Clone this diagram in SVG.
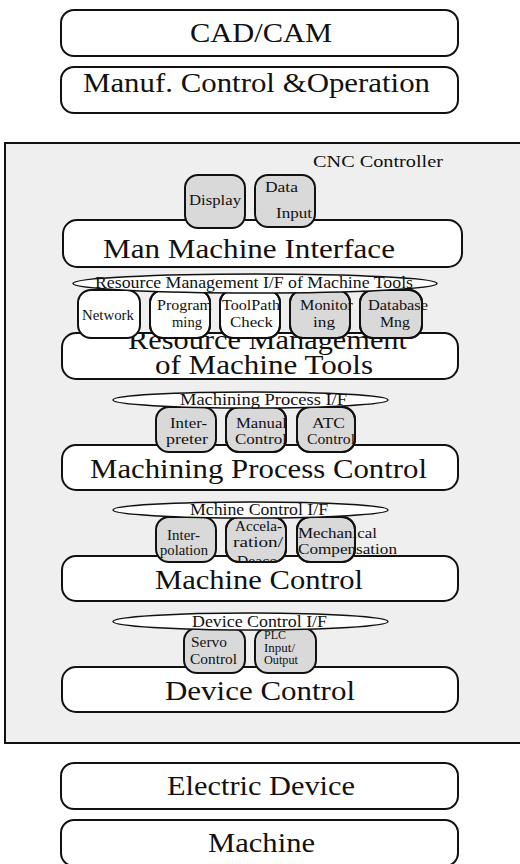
<svg xmlns="http://www.w3.org/2000/svg" width="520" height="864" viewBox="0 0 520 864">
  <style>
    text { font-family: "Liberation Serif", "Times New Roman", serif; fill: #111; }
    .big { font-size: 28px; }
    .sm { font-size: 15px; }
    .if { font-size: 16px; }
    .tiny { font-size: 11.5px; }
    .layer { fill: #fff; stroke: #111; stroke-width: 2; }
    .mod { stroke: #111; stroke-width: 2; }
    .white { fill: #fff; }
    .gray { fill: #d9d9d9; }
    .line { fill: none; stroke: #111; stroke-width: 2; }
    .iface { fill: #fff; stroke: #111; stroke-width: 1.5; }
  </style>
  <defs>
    <clipPath id="clipRM"><rect x="62" y="333" width="396" height="46"/></clipPath>
    <clipPath id="clipAcc"><rect x="200" y="515" width="120" height="47"/></clipPath>
  </defs>

  <!-- external layers above the controller -->
  <g id="cadcam">
    <rect class="layer" x="61" y="10" width="397" height="46" rx="13"/>
    <text class="big" x="190" y="42" textLength="142" lengthAdjust="spacingAndGlyphs">CAD/CAM</text>
  </g>
  <g id="manuf">
    <rect class="layer" x="61" y="67" width="397" height="46" rx="13"/>
    <text class="big" x="83" y="92" textLength="347" lengthAdjust="spacingAndGlyphs">Manuf. Control &amp;Operation</text>
  </g>

  <!-- controller frame -->
  <g id="cnc">
    <rect x="5" y="143" width="530" height="600" fill="#efefef" stroke="#111" stroke-width="2"/>
    <text x="313" y="167" font-size="17" textLength="130" lengthAdjust="spacingAndGlyphs">CNC Controller</text>
  </g>

  <!-- Man Machine Interface -->
  <g id="mmi">
    <rect class="layer" x="63" y="220" width="399" height="47" rx="14"/>
    <text class="big" x="103" y="258" textLength="292" lengthAdjust="spacingAndGlyphs">Man Machine Interface</text>
  </g>
  <g id="display">
    <rect class="mod gray" x="185" y="175" width="60" height="53" rx="13"/>
    <text class="sm" x="189" y="205" textLength="52" lengthAdjust="spacingAndGlyphs">Display</text>
  </g>
  <g id="datainput">
    <rect class="mod gray" x="255" y="175" width="60" height="52" rx="13"/>
    <text class="sm" x="265" y="192" textLength="33" lengthAdjust="spacingAndGlyphs">Data</text>
    <text class="sm" x="276" y="218" textLength="36" lengthAdjust="spacingAndGlyphs">Input</text>
  </g>

  <!-- Resource Management -->
  <g id="rm">
    <rect class="layer" x="62" y="333" width="396" height="46" rx="14"/>
    <g clip-path="url(#clipRM)">
      <text class="big" x="128" y="349" textLength="279" lengthAdjust="spacingAndGlyphs">Resource Management</text>
      <text class="big" x="155" y="374" textLength="218" lengthAdjust="spacingAndGlyphs">of Machine Tools</text>
    </g>
  </g>
  <g id="network">
    <rect class="mod white" x="78" y="290" width="62" height="48" rx="13"/>
    <text class="sm" x="82" y="320" textLength="52" lengthAdjust="spacingAndGlyphs">Network</text>
  </g>
  <g id="programming">
    <rect class="mod white" x="150" y="290" width="60" height="48" rx="13"/>
    <text class="sm" x="157" y="310" textLength="55" lengthAdjust="spacingAndGlyphs">Program</text>
    <text class="sm" x="172" y="327" textLength="30" lengthAdjust="spacingAndGlyphs">ming</text>
    <rect class="line" x="150" y="290" width="60" height="48" rx="13"/>
  </g>
  <g id="toolpath">
    <rect class="mod white" x="220" y="290" width="60" height="48" rx="13"/>
    <text class="sm" x="222" y="310" textLength="58" lengthAdjust="spacingAndGlyphs">ToolPath</text>
    <text class="sm" x="230" y="327" textLength="43" lengthAdjust="spacingAndGlyphs">Check</text>
    <rect class="line" x="220" y="290" width="60" height="48" rx="13"/>
  </g>
  <g id="monitoring">
    <rect class="mod gray" x="290" y="290" width="60" height="48" rx="13"/>
    <text class="sm" x="300" y="310" textLength="53" lengthAdjust="spacingAndGlyphs">Monitor</text>
    <text class="sm" x="313" y="327" textLength="22" lengthAdjust="spacingAndGlyphs">ing</text>
    <rect class="line" x="290" y="290" width="60" height="48" rx="13"/>
  </g>
  <g id="database">
    <rect class="mod gray" x="360" y="290" width="62" height="48" rx="13"/>
    <text class="sm" x="368" y="310" textLength="60" lengthAdjust="spacingAndGlyphs">Database</text>
    <text class="sm" x="380" y="327" textLength="30" lengthAdjust="spacingAndGlyphs">Mng</text>
    <rect class="line" x="360" y="290" width="62" height="48" rx="13"/>
  </g>
  <g id="rm-if">
    <ellipse class="iface" cx="255" cy="283.5" rx="182" ry="9.5"/>
    <text class="if" x="95" y="288" textLength="318" lengthAdjust="spacingAndGlyphs">Resource Management I/F of Machine Tools</text>
  </g>

  <!-- Machining Process Control -->
  <g id="mpc">
    <rect class="layer" x="62" y="445" width="396" height="45" rx="14"/>
    <text class="big" x="90" y="478" textLength="337" lengthAdjust="spacingAndGlyphs">Machining Process Control</text>
  </g>
  <g id="interpreter">
    <rect class="mod gray" x="156" y="407" width="60" height="45" rx="13"/>
    <text class="sm" x="170" y="428" textLength="37" lengthAdjust="spacingAndGlyphs">Inter-</text>
    <text class="sm" x="166" y="444" textLength="42" lengthAdjust="spacingAndGlyphs">preter</text>
  </g>
  <g id="manual">
    <rect class="mod gray" x="226" y="407" width="60" height="45" rx="13"/>
    <text class="sm" x="236" y="428" textLength="51" lengthAdjust="spacingAndGlyphs">Manual</text>
    <text class="sm" x="235" y="444" textLength="52" lengthAdjust="spacingAndGlyphs">Control</text>
    <rect class="line" x="226" y="407" width="60" height="45" rx="13"/>
  </g>
  <g id="atc">
    <rect class="mod gray" x="297" y="407" width="58" height="45" rx="13"/>
    <text class="sm" x="312" y="428" textLength="33" lengthAdjust="spacingAndGlyphs">ATC</text>
    <text class="sm" x="307" y="444" textLength="48" lengthAdjust="spacingAndGlyphs">Control</text>
    <rect class="line" x="297" y="407" width="58" height="45" rx="13"/>
  </g>
  <g id="mp-if">
    <ellipse class="iface" cx="250.5" cy="400" rx="137.5" ry="8"/>
    <text class="if" x="180" y="405" textLength="167" lengthAdjust="spacingAndGlyphs">Machining Process I/F</text>
  </g>

  <!-- Machine Control -->
  <g id="mc">
    <rect class="layer" x="62" y="556" width="396" height="45" rx="14"/>
    <text class="big" x="155" y="589" textLength="208" lengthAdjust="spacingAndGlyphs">Machine Control</text>
  </g>
  <g id="interpolation">
    <rect class="mod gray" x="156" y="517" width="60" height="45" rx="13"/>
    <text class="sm" x="167" y="540" textLength="33" lengthAdjust="spacingAndGlyphs">Inter-</text>
    <text class="sm" x="160" y="555" textLength="48" lengthAdjust="spacingAndGlyphs">polation</text>
  </g>
  <g id="acceleration">
    <rect class="mod gray" x="226" y="517" width="60" height="45" rx="13"/>
    <text class="sm" x="235" y="531" textLength="47" lengthAdjust="spacingAndGlyphs">Accela-</text>
    <text class="sm" x="233" y="547" textLength="50" lengthAdjust="spacingAndGlyphs">ration/</text>
    <text class="sm" x="237" y="566" textLength="43" lengthAdjust="spacingAndGlyphs" clip-path="url(#clipAcc)">Deacc.</text>
    <rect class="line" x="226" y="517" width="60" height="45" rx="13"/>
  </g>
  <g id="mechanical">
    <rect class="mod gray" x="297" y="517" width="58" height="45" rx="13"/>
    <text class="sm" x="298" y="538" textLength="79" lengthAdjust="spacingAndGlyphs">Mechanical</text>
    <text class="sm" x="298" y="554" textLength="99" lengthAdjust="spacingAndGlyphs">Compensation</text>
    <rect class="line" x="297" y="517" width="58" height="45" rx="13"/>
  </g>
  <g id="mc-if">
    <ellipse class="iface" cx="250.5" cy="510" rx="137.5" ry="8"/>
    <text class="if" x="190" y="515" textLength="138" lengthAdjust="spacingAndGlyphs">Mchine Control I/F</text>
  </g>

  <!-- Device Control -->
  <g id="dc">
    <rect class="layer" x="62" y="667" width="396" height="45" rx="14"/>
    <text class="big" x="165" y="700" textLength="190" lengthAdjust="spacingAndGlyphs">Device Control</text>
  </g>
  <g id="servo">
    <rect class="mod gray" x="184" y="628" width="61" height="45" rx="13"/>
    <text class="sm" x="191" y="647" textLength="36" lengthAdjust="spacingAndGlyphs">Servo</text>
    <text class="sm" x="190" y="664" textLength="47" lengthAdjust="spacingAndGlyphs">Control</text>
  </g>
  <g id="plc">
    <rect class="mod gray" x="255" y="628" width="61" height="45" rx="13"/>
    <text class="tiny" x="264" y="639" textLength="22" lengthAdjust="spacingAndGlyphs">PLC</text>
    <text class="tiny" x="264" y="652" textLength="31" lengthAdjust="spacingAndGlyphs">Input/</text>
    <text class="tiny" x="264" y="664" textLength="34" lengthAdjust="spacingAndGlyphs">Output</text>
  </g>
  <g id="dc-if">
    <ellipse class="iface" cx="250.5" cy="621.5" rx="137.5" ry="8.5"/>
    <text class="if" x="192" y="627" textLength="135" lengthAdjust="spacingAndGlyphs">Device Control I/F</text>
  </g>

  <!-- external layers below the controller -->
  <g id="electric">
    <rect class="layer" x="61" y="763" width="397" height="46" rx="13"/>
    <text class="big" x="167" y="795" textLength="188" lengthAdjust="spacingAndGlyphs">Electric Device</text>
  </g>
  <g id="machine">
    <rect class="layer" x="61" y="820" width="397" height="46" rx="13"/>
    <text class="big" x="208" y="852" textLength="107" lengthAdjust="spacingAndGlyphs">Machine</text>
  </g>

  <g id="connectors"></g>
</svg>
